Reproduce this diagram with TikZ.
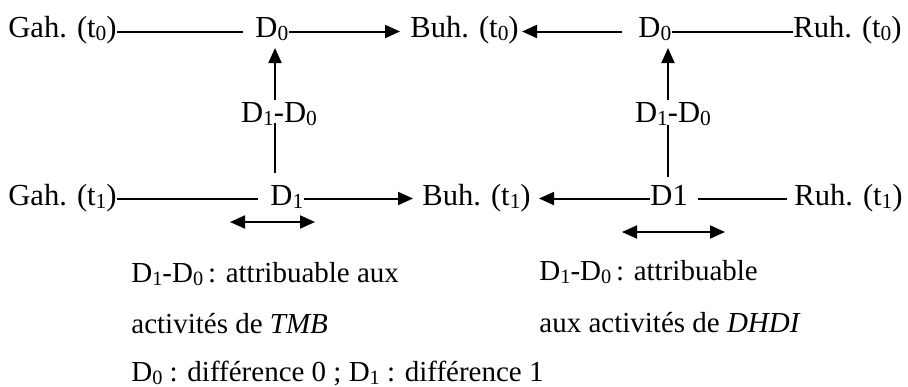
\documentclass[tikz,border=0pt]{standalone}
\usepackage{fontspec}
\setmainfont{Liberation Serif}
\usetikzlibrary{arrows.meta}
\newcommand\sbs[1]{\raisebox{-0.12em}{\fontsize{0.7em}{1em}\selectfont #1}}
\newcommand\wsp{\hspace{5pt}}
\begin{document}
\begin{tikzpicture}[x=0.5pt,y=-0.5pt,
  every node/.style={inner sep=0pt,font=\fontsize{15.3}{18}\selectfont},
  txt/.style={anchor=base west},
  txr/.style={anchor=base east},
  note/.style={anchor=base west,font=\fontsize{14.5}{17}\selectfont},
  ln/.style={line width=1pt},
  arr/.style={line width=1pt,-{Triangle[length=7.5pt,width=6.5pt]}},
  darr/.style={line width=1pt,{Triangle[length=7.5pt,width=6.5pt]}-{Triangle[length=7.5pt,width=6.5pt]}},
  lab/.style={anchor=base,inner xsep=0pt}]
\useasboundingbox (0,0) rectangle (908,386);
% row 1
\node[txt] (g0) at (8,37) {Gah.\wsp(t\sbs0)};
\node[txt] (d0a) at (255,37) {D\sbs0};
\node[txt] (b0) at (410,37) {Buh.\wsp(t\sbs0)};
\node[txt] (d0b) at (638,37) {D\sbs0};
\node[txr] (r0) at (902,37) {Ruh.\wsp(t\sbs0)};
% row 2
\node[txt] (g1) at (8,205) {Gah.\wsp(t\sbs1)};
\node[txt] (d1a) at (270,205) {D\sbs1};
\node[txt] (b1) at (422,205) {Buh.\wsp(t\sbs1)};
\node[txt] (d1b) at (650,205) {D1};
\node[txr] (r1) at (903,205) {Ruh.\wsp(t\sbs1)};
% vertical labels
\node[lab] (l1) at (279,122) {D\sbs1-D\sbs0};
\node[lab] (l2) at (673,122) {D\sbs1-D\sbs0};
% texts
\node[note] (t1) at (131,282) {D\sbs1-D\sbs0\,: attribuable aux};
\node[note] (t2) at (131,333) {activités de \textit{TMB}};
\node[note] (t3) at (131,381) {D\sbs0 : différence 0 ; D\sbs1 : différence 1};
\node[note] (t4) at (539,280) {D\sbs1-D\sbs0\,: attribuable};
\node[note] (t5) at (539,332) {aux activités de \textit{DHDI}};
% double arrows
\coordinate (da) at (230,222); \coordinate (db) at (315,222);
\coordinate (dc) at (622,232); \coordinate (dd) at (725,232);
\draw[darr] (da) -- (db);
\draw[darr] (dc) -- (dd);
% row connectors
\coordinate (y0) at (0,31.5);
\coordinate (y1) at (0,198.5);
\draw[ln] (g0.east |- y0) -- ([xshift=-6pt]d0a.west |- y0);
\draw[arr] (d0a.east |- y0) -- ([xshift=-5pt]b0.west |- y0);
\draw[arr] ([xshift=-8pt]d0b.west |- y0) -- ([xshift=1.5pt]b0.east |- y0);
\draw[ln] (d0b.east |- y0) -- (r0.west |- y0);
\draw[ln] (g1.east |- y1) -- ([xshift=-6pt]d1a.west |- y1);
\draw[arr] (d1a.east |- y1) -- ([xshift=-4.5pt]b1.west |- y1);
\draw[arr] (d1b.west |- y1) -- ([xshift=4pt]b1.east |- y1);
\draw[ln] ([xshift=5pt]d1b.east |- y1) -- ([xshift=-3.5pt]r1.west |- y1);
% verticals
\coordinate (v1) at (275,0);
\coordinate (v2) at (668,0);
\draw[arr] (v1 |- 0,100) -- (v1 |- 0,48);
\draw[ln] (v1 |- 0,123) -- (v1 |- 0,173);
\draw[arr] (v2 |- 0,100) -- (v2 |- 0,48);
\draw[ln] (v2 |- 0,125) -- (v2 |- 0,177);
\end{tikzpicture}
\end{document}
